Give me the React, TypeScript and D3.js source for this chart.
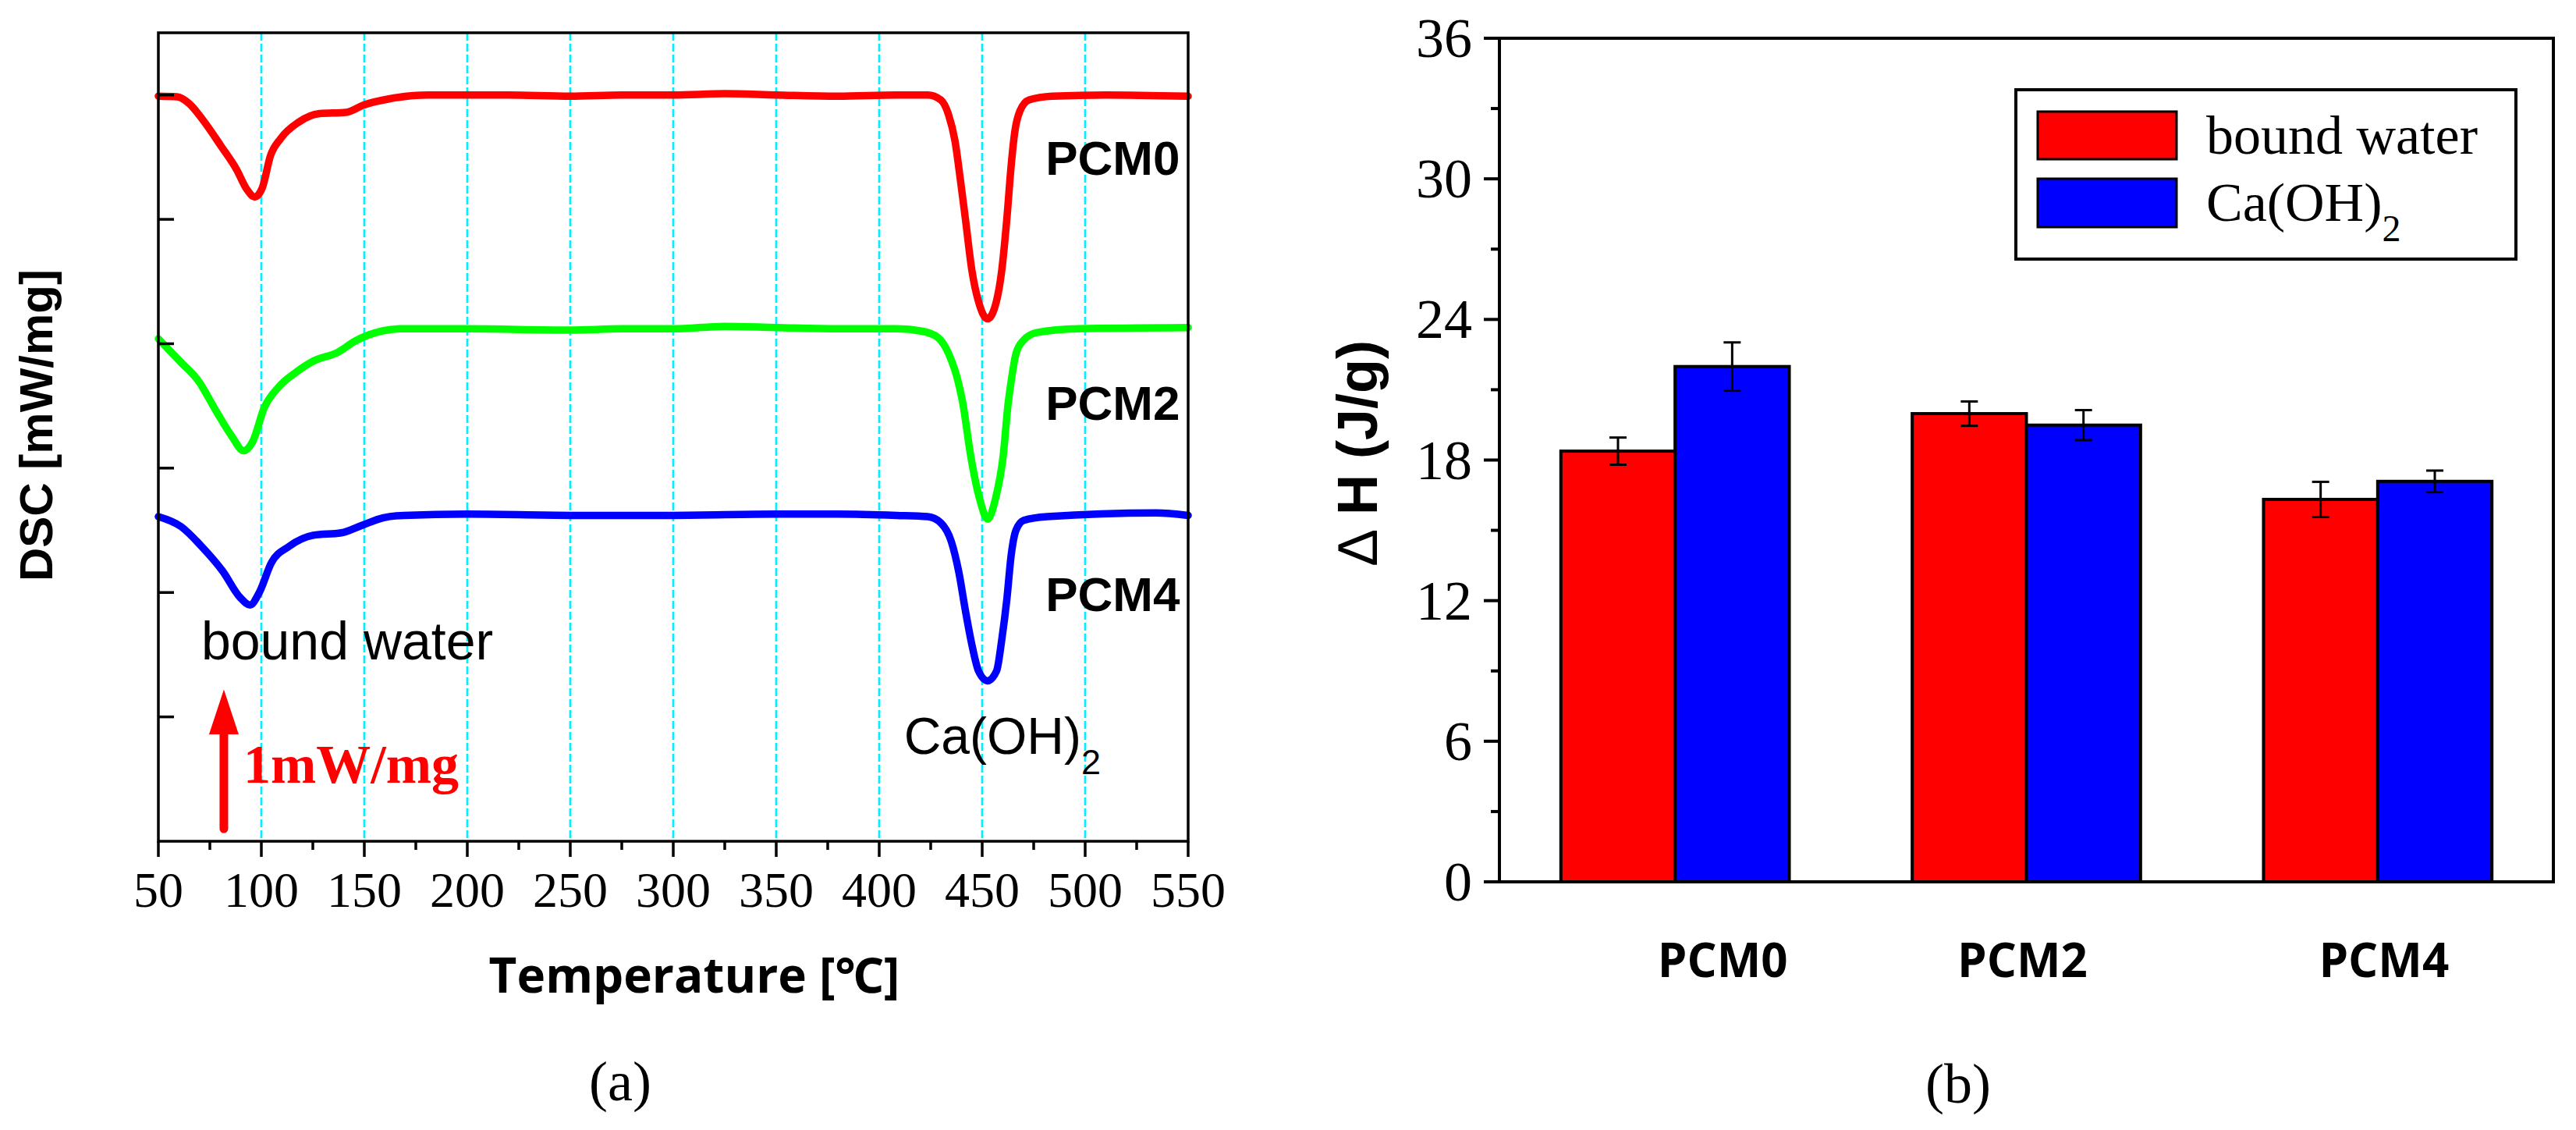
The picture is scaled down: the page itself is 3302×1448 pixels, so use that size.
import * as d3 from "d3"

const W = 3302
const H = 1448

// (a) DSC curves: [temperature °C, stacked heat flow mW/mg]
const pcm0Curve: [number, number][] = [
  [50, 5.99], [59, 5.985], [65, 5.93], [71.6, 5.8], [80.4, 5.59], [88, 5.4], [93, 5.24], [96.8, 5.18],
  [100.6, 5.26], [104.4, 5.51], [109.4, 5.65], [118, 5.78], [128.3, 5.85], [141, 5.86], [149.8, 5.92],
  [162.4, 5.97], [181, 6.0], [220, 6.0], [250, 5.99], [275, 6.0], [300, 6.0], [325, 6.01], [350, 6.0],
  [380, 5.99], [408, 6.0], [423.6, 6.0], [429.9, 5.96], [433.7, 5.84], [436.8, 5.63], [439.4, 5.32],
  [441.8, 5.01], [445, 4.59], [448.2, 4.34], [452.6, 4.2], [456.9, 4.34], [459.5, 4.59], [462, 5.01],
  [464, 5.42], [465.8, 5.7], [468.3, 5.87], [472.8, 5.96], [484, 5.99], [510, 6.0], [550, 5.99],
]

const pcm2Curve: [number, number][] = [
  [50, 4.04], [61, 3.85], [69.5, 3.7], [78, 3.46], [85.5, 3.26], [91.4, 3.14], [95.7, 3.21], [101.5, 3.49],
  [108.3, 3.65], [116.8, 3.77], [125.2, 3.86], [137, 3.93], [145.4, 4.02], [152, 4.07], [167.4, 4.12],
  [200, 4.12], [250, 4.11], [275, 4.12], [300, 4.12], [325, 4.14], [350, 4.13], [380, 4.12], [408.4, 4.12],
  [421, 4.1], [428.5, 4.05], [433.7, 3.92], [438.7, 3.67], [440.6, 3.52], [444.4, 3.1], [448.8, 2.75],
  [452.6, 2.59], [456.4, 2.75], [460.2, 3.1], [462.6, 3.52], [464, 3.69], [466.4, 3.92], [470.2, 4.03],
  [476.6, 4.09], [496.6, 4.12], [550, 4.13],
]

const pcm4Curve: [number, number][] = [
  [50, 2.61], [61, 2.53], [71, 2.37], [81.3, 2.17], [89.7, 1.96], [94.5, 1.9], [99, 2.0], [104.9, 2.24],
  [113.4, 2.37], [125.2, 2.46], [138.8, 2.48], [148.8, 2.54], [159, 2.6], [169.2, 2.62], [200, 2.63],
  [250, 2.62], [300, 2.62], [350, 2.63], [380, 2.63], [408.4, 2.62], [423.6, 2.61], [429.9, 2.56],
  [435, 2.41], [438.7, 2.16], [441.9, 1.85], [445, 1.58], [448.2, 1.37], [452.6, 1.29], [457, 1.37],
  [459.5, 1.62], [462, 1.95], [464, 2.29], [466.4, 2.5], [470.2, 2.58], [481.5, 2.61], [534.5, 2.64],
  [550, 2.62],
]

const tempTicks = [50, 100, 150, 200, 250, 300, 350, 400, 450, 500, 550]
const gridTemps = [100, 150, 200, 250, 300, 350, 400, 450, 500]
const dscTicks = [1, 2, 3, 4, 5, 6]

// (b) enthalpy bars
const categories = ["PCM0", "PCM2", "PCM4"]
const boundWater = [18.38, 19.98, 16.32]
const boundWaterErr = [0.58, 0.52, 0.75]
const caOH2 = [21.99, 19.49, 17.09]
const caOH2Err = [1.03, 0.64, 0.46]
const dhTicks = [0, 6, 12, 18, 24, 30, 36]
const dhMinor = [3, 9, 15, 21, 27, 33]

const serif = "'Liberation Serif', 'Times New Roman', serif"
const sans = "'Liberation Sans', Arial, sans-serif"
const openSans = "'Open Sans', 'Noto Sans', sans-serif"

export default function App() {
  // ---- panel (a) ----
  const x = d3.scaleLinear().domain([50, 550]).range([203, 1523])
  const y = d3.scaleLinear().domain([0, 6.5]).range([1078, 42])
  const line = d3
    .line<[number, number]>()
    .x((d) => x(d[0]))
    .y((d) => y(d[1]))
    .curve(d3.curveMonotoneX)
  const curves = [
    { data: pcm0Curve, color: "#ff0000", label: "PCM0", ly: 5.36 },
    { data: pcm2Curve, color: "#00ff00", label: "PCM2", ly: 3.39 },
    { data: pcm4Curve, color: "#0000ff", label: "PCM4", ly: 1.85 },
  ]
  const minorTemps = d3.range(75, 550, 50)

  // ---- panel (b) ----
  const xb = d3.scaleBand().domain(categories).range([1922, 3273]).padding(0)
  const yb = d3.scaleLinear().domain([0, 36]).range([1130, 49])
  const barW = xb.bandwidth() * 0.325
  const labelNudge = [61, -5, 8]
  const series = [
    { values: boundWater, errs: boundWaterErr, color: "#ff0000", off: -1 },
    { values: caOH2, errs: caOH2Err, color: "#0000ff", off: 0 },
  ]

  return (
    <svg
      width={W}
      height={H}
      viewBox={`0 0 ${W} ${H}`}
      style={{ position: "absolute", left: 0, top: 0, background: "#fff" }}
    >
      <rect width={W} height={H} fill="#fff" />

      {/* ---------- (a) DSC ---------- */}
      <g>
        {gridTemps.map((t) => (
          <line key={t} x1={x(t)} x2={x(t)} y1={y(6.5)} y2={y(0)} stroke="#00f0ff" strokeWidth={2.8} strokeDasharray="10 4" />
        ))}
        {curves.map((c) => (
          <path key={c.label} d={line(c.data) ?? ""} fill="none" stroke={c.color} strokeWidth={9.5} strokeLinejoin="round" strokeLinecap="round" />
        ))}
        <rect x={x(50)} y={y(6.5)} width={x(550) - x(50)} height={y(0) - y(6.5)} fill="none" stroke="#000" strokeWidth={3.5} />
        {/* y ticks (inward) */}
        {dscTicks.map((v) => (
          <line key={v} x1={x(50)} x2={x(50) + 20} y1={y(v)} y2={y(v)} stroke="#000" strokeWidth={3.5} />
        ))}
        {/* x ticks (outward) */}
        {tempTicks.map((t) => (
          <g key={t}>
            <line x1={x(t)} x2={x(t)} y1={y(0)} y2={y(0) + 20} stroke="#000" strokeWidth={3.5} />
            <text x={x(t)} y={1162} textAnchor="middle" fontFamily={serif} fontSize={64}>{t}</text>
          </g>
        ))}
        {minorTemps.map((t) => (
          <line key={t} x1={x(t)} x2={x(t)} y1={y(0)} y2={y(0) + 11} stroke="#000" strokeWidth={3.5} />
        ))}
        {curves.map((c) => (
          <text key={c.label} x={x(546)} y={y(c.ly)} textAnchor="end" fontFamily={sans} fontWeight="bold" fontSize={62}>
            {c.label}
          </text>
        ))}
        <text x={x(70.8)} y={y(1.46)} fontFamily={sans} fontSize={68}>bound water</text>
        <text x={x(412)} y={y(0.7)} fontFamily={sans} fontSize={66}>
          Ca(OH)<tspan fontSize={45} dy={26}>2</tspan>
        </text>
        {/* 1 mW/mg scale arrow */}
        <line x1={x(81.8)} x2={x(81.8)} y1={y(0.1)} y2={y(1.0)} stroke="#ff0000" strokeWidth={11} strokeLinecap="round" />
        <path
          d={`M${x(81.8)},${y(1.22)} L${x(81.8) - 19},${y(0.86)} L${x(81.8) + 19},${y(0.86)} Z`}
          fill="#ff0000"
        />
        <text x={x(91.3)} y={y(0.47)} fontFamily={serif} fontWeight="bold" fontSize={70} fill="#ff0000">1mW/mg</text>
        <text transform="translate(67,545) rotate(-90)" textAnchor="middle" fontFamily={sans} fontWeight="bold" fontSize={60}>
          DSC [mW/mg]
        </text>
        <text x={890} y={1272} textAnchor="middle" fontFamily={openSans} fontWeight="bold" fontSize={62}>
          Temperature [℃]
        </text>
        <text x={795} y={1410} textAnchor="middle" fontFamily={serif} fontSize={72}>(a)</text>
      </g>

      {/* ---------- (b) ΔH bars ---------- */}
      <g>
        {series.map((s) =>
          categories.map((c, i) => {
            const cx = (xb(c) as number) + xb.bandwidth() / 2
            const bx = cx + s.off * barW
            return (
              <rect key={s.color + c} x={bx} y={yb(s.values[i])} width={barW} height={yb(0) - yb(s.values[i])} fill={s.color} stroke="#000" strokeWidth={4} />
            )
          })
        )}
        {series.map((s) =>
          categories.map((c, i) => {
            const cx = (xb(c) as number) + xb.bandwidth() / 2 + s.off * barW + barW / 2
            const hi = yb(s.values[i] + s.errs[i])
            const lo = yb(s.values[i] - s.errs[i])
            return (
              <g key={"e" + s.color + c} stroke="#000" strokeWidth={3}>
                <line x1={cx} x2={cx} y1={hi} y2={lo} />
                <line x1={cx - 11} x2={cx + 11} y1={hi} y2={hi} />
                <line x1={cx - 11} x2={cx + 11} y1={lo} y2={lo} />
              </g>
            )
          })
        )}
        <rect x={1922} y={yb(36)} width={3273 - 1922} height={yb(0) - yb(36)} fill="none" stroke="#000" strokeWidth={4} />
        {dhTicks.map((v) => (
          <g key={v}>
            <line x1={1922} x2={1902} y1={yb(v)} y2={yb(v)} stroke="#000" strokeWidth={4} />
            <text x={1887} y={yb(v) + 24} textAnchor="end" fontFamily={serif} fontSize={72}>{v}</text>
          </g>
        ))}
        {dhMinor.map((v) => (
          <line key={v} x1={1922} x2={1911} y1={yb(v)} y2={yb(v)} stroke="#000" strokeWidth={4} />
        ))}
        {categories.map((c, i) => (
          <text key={c} x={(xb(c) as number) + xb.bandwidth() / 2 + labelNudge[i]} y={1252} textAnchor="middle" fontFamily={openSans} fontWeight="bold" fontSize={60}>
            {c}
          </text>
        ))}
        <text transform="translate(1765,580) rotate(-90)" textAnchor="middle" fontFamily={sans} fontWeight="bold" fontSize={72}>
          <tspan fontWeight="normal">∆</tspan> H (J/g)
        </text>
        {/* legend */}
        <rect x={2584} y={115} width={641} height={217} fill="#fff" stroke="#000" strokeWidth={4} />
        <rect x={2612} y={143} width={178} height={61} fill="#ff0000" stroke="#000" strokeWidth={3} />
        <rect x={2612} y={229} width={178} height={62} fill="#0000ff" stroke="#000" strokeWidth={3} />
        <text x={2828} y={197} fontFamily={serif} fontSize={70}>bound water</text>
        <text x={2828} y={283} fontFamily={serif} fontSize={70}>
          Ca(OH)<tspan fontSize={48} dy={26}>2</tspan>
        </text>
        <text x={2510} y={1413} textAnchor="middle" fontFamily={serif} fontSize={72}>(b)</text>
      </g>
    </svg>
  )
}
